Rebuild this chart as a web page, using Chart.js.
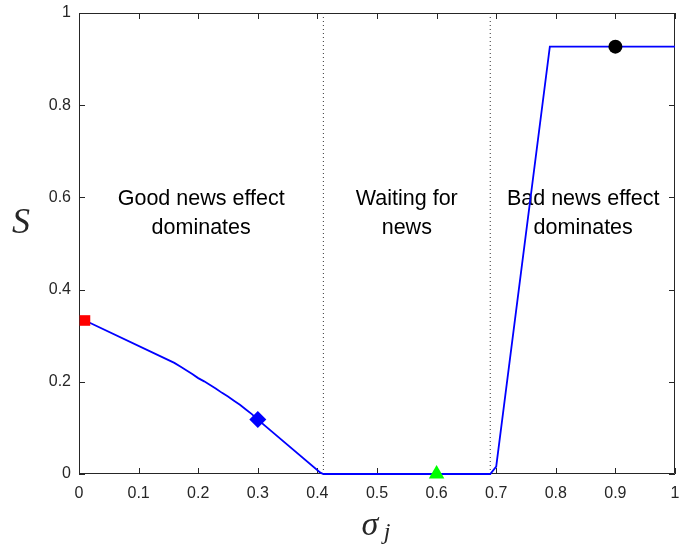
<!DOCTYPE html>
<html><head><meta charset="utf-8">
<script src="https://cdn.jsdelivr.net/npm/chart.js@4"></script>
<style>html,body{margin:0;padding:0;background:#fff}#wrap{width:679px;height:545px}</style>
</head><body><div id="wrap"><canvas id="c" width="679" height="545"></canvas></div>
<script>
const curveX = [0.01,0.16,0.17,0.18,0.19,0.20,0.21,0.22,0.23,0.24,0.25,0.26,0.27,0.28,0.29,0.30,0.405,0.41,0.69,0.70,0.79,1.0];
const curveY = [0.333,0.241,0.233,0.225,0.217,0.208,0.201,0.193,0.185,0.176,0.168,0.159,0.150,0.140,0.130,0.118,0.003,0.0,0.0,0.016,0.927,0.927];
const dividerX = [0.41, 0.69];
const markers = [
  {x:0.01, y:0.333, style:'rect', color:'#ff0000', r:7.5},
  {x:0.30, y:0.118, style:'rectRot', color:'#0000ff', r:8.5},
  {x:0.60, y:0.0, style:'triangle', color:'#00ff00', r:9},
  {x:0.90, y:0.927, style:'circle', color:'#000000', r:7}
];
const xTicks = [0,0.1,0.2,0.3,0.4,0.5,0.6,0.7,0.8,0.9,1];
const yTicks = [0,0.2,0.4,0.6,0.8,1];
const regionLabels = [
  {x:0.205, lines:['Good news effect','dominates']},
  {x:0.55, lines:['Waiting for','news']},
  {x:0.846, lines:['Bad news effect','dominates']}
];
const labelY = [0.597, 0.534];

const datasets = [{
  data: curveX.map((x,i)=>({x, y:curveY[i]})),
  borderColor:'#0000ff', borderWidth:1.8, pointRadius:0, showLine:true, fill:false, tension:0, order:2, clip:false
}];
dividerX.forEach(dx=>datasets.push({
  data:[{x:dx,y:0},{x:dx,y:1}], borderColor:'#333333', borderWidth:1, borderDash:[1,3],
  pointRadius:0, showLine:true, order:3
}));
markers.forEach(m=>datasets.push({
  data:[{x:m.x,y:m.y}], pointStyle:m.style, pointRadius:m.r, pointHoverRadius:m.r,
  backgroundColor:m.color, borderColor:m.color, borderWidth:0, showLine:false, clip:false, order:1
}));

const boxPlugin = {
  id:'box',
  beforeDatasetsDraw(chart){
    const ctx = chart.ctx, xs = chart.scales.x, ys = chart.scales.y;
    const L = xs.left, R = xs.right, T = ys.top, B = ys.bottom;
    ctx.save();
    ctx.strokeStyle = '#262626'; ctx.lineWidth = 1;
    ctx.beginPath();
    ctx.rect(L+0.5, T+0.5, R-L-1, B-T-1);
    ctx.stroke();
    ctx.beginPath();
    const tl = 6;
    xTicks.forEach(v=>{
      const p = Math.round(xs.getPixelForValue(v))+0.5;
      ctx.moveTo(p,B); ctx.lineTo(p,B-tl);
      ctx.moveTo(p,T); ctx.lineTo(p,T+tl);
    });
    yTicks.forEach(v=>{
      const p = Math.round(ys.getPixelForValue(v))+0.5;
      ctx.moveTo(L,p); ctx.lineTo(L+tl,p);
      ctx.moveTo(R,p); ctx.lineTo(R-tl,p);
    });
    ctx.stroke();
    // region labels
    ctx.fillStyle = '#000';
    ctx.font = '21.5px "Liberation Sans", Arial, sans-serif';
    ctx.textAlign = 'center'; ctx.textBaseline = 'middle';
    regionLabels.forEach(r=>{
      r.lines.forEach((t,i)=>ctx.fillText(t, xs.getPixelForValue(r.x), ys.getPixelForValue(labelY[i])));
    });
    // axis titles
    ctx.fillStyle = '#262626';
    ctx.textBaseline = 'alphabetic';
    ctx.font = 'italic 36px "Liberation Serif", serif';
    ctx.fillText('S', 21, 233);
    ctx.font = 'italic 34px "Liberation Serif", serif';
    ctx.fillText('σ', 370, 535);
    ctx.font = 'italic 24px "Liberation Serif", serif';
    ctx.fillText('j', 387, 539);
    ctx.restore();
  }
};

new Chart(document.getElementById('c'), {
  type:'scatter',
  data:{datasets},
  options:{
    responsive:false, animation:false, devicePixelRatio:1,
    layout:{autoPadding:false, padding:{top:13, right:4, left:0, bottom:0}},
    plugins:{legend:{display:false}, tooltip:{enabled:false}},
    scales:{
      x:{type:'linear', min:0, max:1,
        afterBuildTicks(s){ s.ticks = xTicks.map(v=>({value:v})); },
        afterFit(s){ s.height = 71; s.paddingLeft = 0; s.paddingRight = 0; },
        grid:{display:false, drawTicks:false}, border:{display:false},
        ticks:{padding:10, color:'#262626', font:{family:'"Liberation Sans", Arial, sans-serif', size:16},
          callback:v=>String(v)}},
      y:{type:'linear', min:0, max:1,
        afterBuildTicks(s){ s.ticks = yTicks.map(v=>({value:v})); },
        afterFit(s){ s.width = 79; s.paddingTop = 0; s.paddingBottom = 0; },
        grid:{display:false, drawTicks:false}, border:{display:false},
        ticks:{padding:8, color:'#262626', font:{family:'"Liberation Sans", Arial, sans-serif', size:16},
          callback:v=>String(v)}}
    }
  },
  plugins:[boxPlugin]
});
</script></body></html>
